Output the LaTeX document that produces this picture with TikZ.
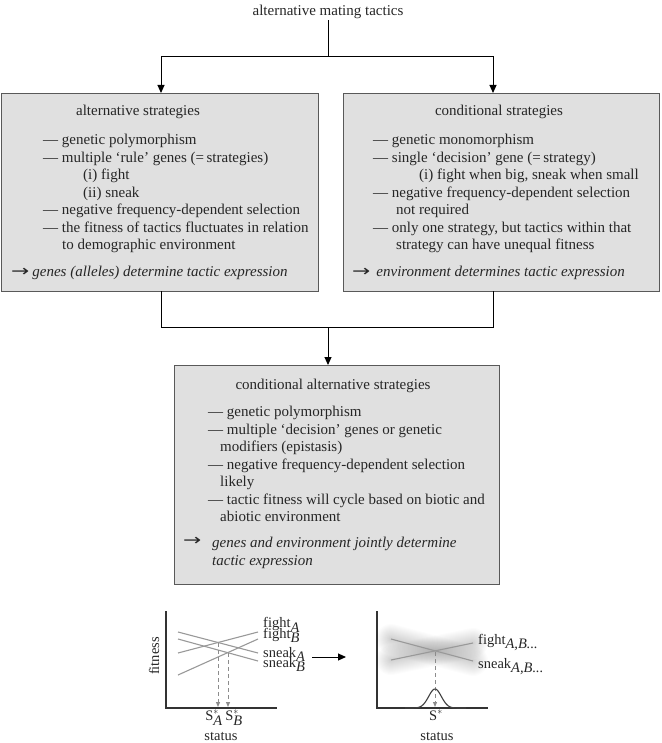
\documentclass[tikz,border=0pt]{standalone}
\usepackage{graphicx}
\usepackage{fontspec}
\setmainfont{Liberation Serif}
\newfontfamily\symfont{DejaVu Sans}
\usetikzlibrary{arrows.meta, positioning, calc}

\newcommand{\outarrow}{{\symfont\scalebox{1.45}[1.05]{→}}}

\begin{document}
\begin{tikzpicture}[
    % one unit = one pixel of the page, y running downwards
    x=1pt, y=-1pt,
    % Styles
    box/.style={rectangle, draw=black!65, line width=1.3pt, fill=black!12, inner sep=0pt, anchor=north west},
    heading/.style={font=\fontsize{15}{17.5}\selectfont, inner sep=1pt, text=black!85},
    items/.style={font=\fontsize{15}{17.5}\selectfont, align=left, anchor=north west, inner sep=0pt, text=black!85},
    outcome/.style={items, font=\fontsize{15}{17.5}\selectfont\itshape},
    line/.style={line width=1pt},
    arrow/.style={-{Triangle[length=8pt, width=7pt]}, line width=1pt},
    axis/.style={line width=1.1pt, black!80},
    curve/.style={black!40, line width=1.1pt},
    haze/.style={black, opacity=0.01, line cap=round},
    guide/.style={black!45, dashed, dash pattern=on 4pt off 3pt, line width=1pt, -{Triangle[length=5pt, width=4pt]}},
    small/.style={font=\fontsize{14.5}{16}\selectfont, inner sep=0pt, text=black!85}
]
\useasboundingbox (0,0) rectangle (661,743);

% --- Top of the tree ---
\node[heading] (title) at (328,12) {alternative mating tactics};
\coordinate (split) at (328,57);
\coordinate (lefttap) at (161,93);
\coordinate (righttap) at (493,93);

% --- Boxes ---
\node[box, minimum width=317pt, minimum height=198pt] (altbox) at (0.7,93) {};
\node[box, minimum width=316pt, minimum height=198pt] (condbox) at (343,93) {};
\node[box, minimum width=325pt, minimum height=219pt] (condaltbox) at (174,365) {};

\draw[line] (title) -- (split);
\draw[arrow] (split) -| (lefttap);
\draw[arrow] (split) -| (righttap);

\coordinate (leftfoot) at (161,291);
\coordinate (rightfoot) at (493,291);
\coordinate (merge) at (328,327);
\coordinate (midtap) at (328,365);
\draw[line] (leftfoot) |- (merge);
\draw[line] (rightfoot) |- (merge);
\draw[arrow] (merge) -- (midtap);

% --- Alternative strategies ---
\node[heading] (altname) at (138,112) {alternative strategies};
\node[items] (altlist) at (43,134) {— genetic polymorphism\\— multiple ‘rule’ genes (=\,strategies)\\\hspace*{40pt}(i) fight\\\hspace*{40pt}(ii) sneak\\— negative frequency-dependent selection\\— the fitness of tactics fluctuates in relation\\\hspace*{19pt}to demographic environment};
\node[outcome] (altout) at (11,266) {\outarrow\hspace{3pt}genes (alleles) determine tactic expression};

% --- Conditional strategies ---
\node[heading] (condname) at (499,112) {conditional strategies};
\node[items] (condlist) at (373,134) {— genetic monomorphism\\— single ‘decision’ gene (=\,strategy)\\\hspace*{46pt}(i) fight when big, sneak when small\\— negative frequency-dependent selection\\\hspace*{23pt}not required\\— only one strategy, but tactics within that\\\hspace*{23pt}strategy can have unequal fitness};
\node[outcome] (condout) at (352,266) {\outarrow\hspace{6pt}environment determines tactic expression};

% --- Conditional alternative strategies ---
\node[heading] (condaltname) at (333,386) {conditional alternative strategies};
\node[items] (condaltlist) at (208,406) {— genetic polymorphism\\— multiple ‘decision’ genes or genetic\\\hspace*{12pt}modifiers (epistasis)\\— negative frequency-dependent selection\\\hspace*{12pt}likely\\— tactic fitness will cycle based on biotic and\\\hspace*{12pt}abiotic environment};
\node[items] (condaltarrow) at (183,537) {\outarrow};
\node[outcome] (condaltout) at (212,537) {genes and environment jointly determine\\tactic expression};

% --- Left plot: separate tactics ---
\draw[axis] (166,611) -- (166,708) -- (277,708);
\draw[curve] (178,632) -- (258,653); % sneak A
\draw[curve] (178,639) -- (258,661); % sneak B
\draw[curve] (178,653) -- (258,632); % fight A
\draw[curve] (178,675) -- (258,639); % fight B
\draw[guide] (218,643) -- (218,707);
\draw[guide] (228,653) -- (228,707);

\node[small, rotate=90] (lfit) at (154,656) {fitness};
\node[small, anchor=base west] (fa) at (263,627.5) {fight$_{\textit{A}}$};
\node[small, anchor=base west] (fb) at (263,638) {fight$_{\textit{B}}$};
\node[small, anchor=base west] (sa) at (263,657) {sneak$_{\textit{A}}$};
\node[small, anchor=base west] (sb) at (263,667) {sneak$_{\textit{B}}$};
\node[small, anchor=base] (lsa) at (214,720) {S$^{*}_{\textit{A}}$};
\node[small, anchor=base] (lsb) at (234,720) {S$^{*}_{\textit{B}}$};
\node[small, anchor=base] (lstat) at (221,740) {status};

% --- Arrow between plots ---
\coordinate (from) at (312,657);
\coordinate (to) at (346,657);
\draw[arrow] (from) -- (to);

% --- Right plot: one strategy ---
\draw[axis] (377,611) -- (377,708) -- (488,708);
\foreach \w in {2,4,...,30}
{
    \draw[haze, line width=\w pt] (391,639) -- (473,661);
    \draw[haze, line width=\w pt] (391,660) -- (473,643);
}
\draw[curve] (391,639) -- (473,661); % sneak
\draw[curve] (391,660) -- (473,643); % fight
\draw[guide] (435,652) -- (435,707);
\draw[line width=1.1pt, black!75] plot[domain=405:466, samples=60] (\x, {708-19*exp(-((\x-435)/9)^2)});

\node[small, anchor=base west] (fab) at (478,644) {fight$_{\textit{A,B...}}$};
\node[small, anchor=base west] (sab) at (478,668) {sneak$_{\textit{A,B...}}$};
\node[small, anchor=base] (rs) at (436,720) {S$^{*}$};
\node[small, anchor=base] (rstat) at (437,740) {status};

\end{tikzpicture}
\end{document}
